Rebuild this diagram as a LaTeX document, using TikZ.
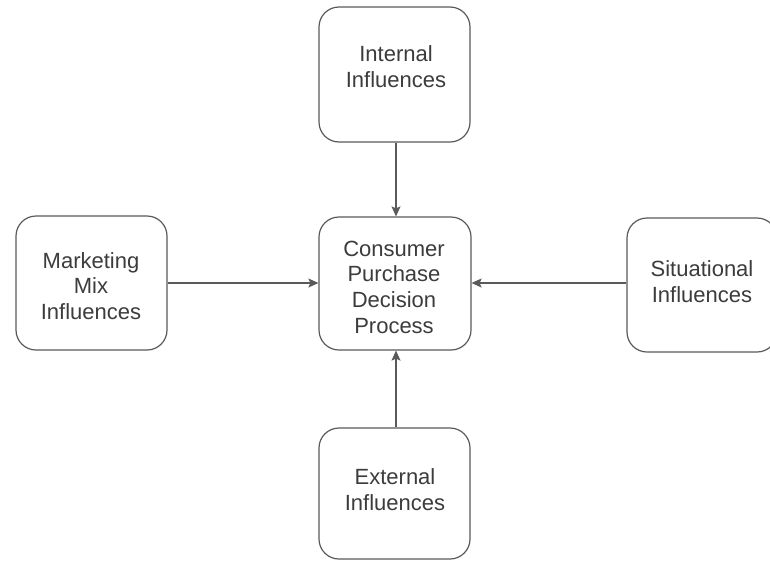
\documentclass[tikz,border=0pt]{standalone}
\usepackage{fontspec}
\setmainfont{Liberation Sans}
\usetikzlibrary{arrows.meta}
\definecolor{edge}{HTML}{5A5A5A}
\definecolor{ink}{HTML}{3C3C3C}
\begin{document}
\begin{tikzpicture}[x=1pt,y=-1pt,
  box/.style={draw=edge, line width=1.2pt, rounded corners=20pt, fill=white,
    inner sep=0pt},
  label/.style={text=ink, align=center, font=\fontsize{22}{25.7}\selectfont,
    inner sep=0pt},
  link/.style={draw=edge, line width=1.1pt,
    -{Stealth[length=10pt,width=9pt,inset=2pt]}}]
\useasboundingbox (0,0) rectangle (770,560);
\fill[white] (0,0) rectangle (770,560);
% boxes, sized and placed in pixel units
\node[box, minimum width=151pt, minimum height=135pt] (internal) at (394.5,74.5) {};
\node[box, minimum width=152pt, minimum height=133pt] (process) at (395,283.5) {};
\node[box, minimum width=151pt, minimum height=134pt] (mix) at (91.5,283) {};
\node[box, minimum width=150pt, minimum height=134pt] (situ) at (702,285) {};
\node[box, minimum width=151pt, minimum height=131pt] (external) at (394.5,493.5) {};
% texts
\node[label] (tinternal) at (396,66.5) {Internal\\Influences};
\node[label] (tprocess) at (394,287) {Consumer\\Purchase\\Decision\\Process};
\node[label] (tmix) at (91,286) {Marketing\\Mix\\Influences};
\node[label] (tsitu) at (702,281.5) {Situational\\Influences};
\node[label] (texternal) at (395,489.5) {External\\Influences};
% connectors
\draw[link] (internal.south -| 396,0) -- (process.north -| 396,0);
\draw[link] (external.north -| 396,0) -- (process.south -| 396,0);
\draw[link] (mix.east |- 0,283) -- (process.west |- 0,283);
\draw[link] (situ.west |- 0,283) -- (process.east |- 0,283);
\end{tikzpicture}
\end{document}
